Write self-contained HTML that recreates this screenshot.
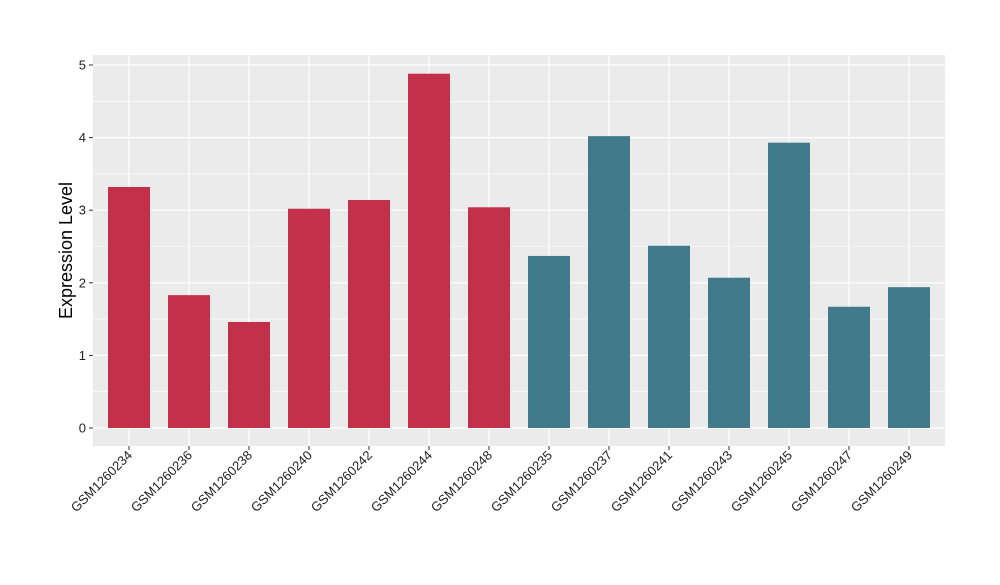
<!DOCTYPE html>
<html><head><meta charset="utf-8"><style>
body{margin:0;background:#fff;font-family:"Liberation Sans",sans-serif;}
</style></head><body>
<svg id="chart" width="1000" height="580" xmlns="http://www.w3.org/2000/svg" font-family="Liberation Sans, sans-serif"></svg>
<script>
const categories=["GSM1260234","GSM1260236","GSM1260238","GSM1260240","GSM1260242","GSM1260244","GSM1260248","GSM1260235","GSM1260237","GSM1260241","GSM1260243","GSM1260245","GSM1260247","GSM1260249"];
const values=[3.32,1.83,1.46,3.02,3.14,4.88,3.04,2.37,4.02,2.51,2.07,3.93,1.67,1.94];
const groups=["a","a","a","a","a","a","a","b","b","b","b","b","b","b"];
const yTicks=[0,1,2,3,4,5];
const colors={a:"#C3304A",b:"#417A8B"};
const svg=document.getElementById('chart');
const NS="http://www.w3.org/2000/svg";
const L=93,R=945,T=55,B=446;
const y0=428,pxPerUnit=72.6;
const y=v=>y0-v*pxPerUnit;
const step=(R-L)/(categories.length+0.2);
const x=i=>L+step*(i+0.6);
function mk(tag,attrs,parent){const e=document.createElementNS(NS,tag);for(const k in attrs)e.setAttribute(k,attrs[k]);(parent||svg).appendChild(e);return e;}
const panel=mk('rect',{x:L,y:T,width:R-L,height:B-T,fill:'#EBEBEB'});


for(let i=0;i<yTicks.length-1;i++){const v=(yTicks[i]+yTicks[i+1])/2;const g=mk('line',{x1:L,x2:R,y1:y(v),y2:y(v),stroke:'#fff','stroke-width':0.6});

}
yTicks.forEach(v=>{const g=mk('line',{x1:L,x2:R,y1:y(v),y2:y(v),stroke:'#fff','stroke-width':1.2});


const t=mk('line',{x1:L-4,x2:L,y1:y(v),y2:y(v),stroke:'#333','stroke-width':1});


const lb=mk('text',{x:L-7,y:y(v)+4.5,'text-anchor':'end','font-size':13,fill:'#222'});lb.textContent=v;

});
categories.forEach((c,i)=>{const g=mk('line',{x1:x(i),x2:x(i),y1:T,y2:B,stroke:'#fff','stroke-width':1.2});

});
const bw=step*0.7;
categories.forEach((c,i)=>{const b=mk('rect',{x:x(i)-bw/2,y:y(values[i]),width:bw,height:y(0)-y(values[i]),fill:colors[groups[i]]});


const t=mk('line',{x1:x(i),x2:x(i),y1:B,y2:B+4,stroke:'#333','stroke-width':1});


const lb=mk('text',{x:x(i)+4,y:B+10,'text-anchor':'end','font-size':13,fill:'#222',transform:`rotate(-45 ${x(i)+4} ${B+10})`});lb.textContent=c;

});
const yt=mk('text',{x:72,y:(T+B)/2,'text-anchor':'middle','font-size':18,fill:'#000',transform:`rotate(-90 72 ${(T+B)/2})`});yt.textContent="Expression Level";


</script>
</body></html>
